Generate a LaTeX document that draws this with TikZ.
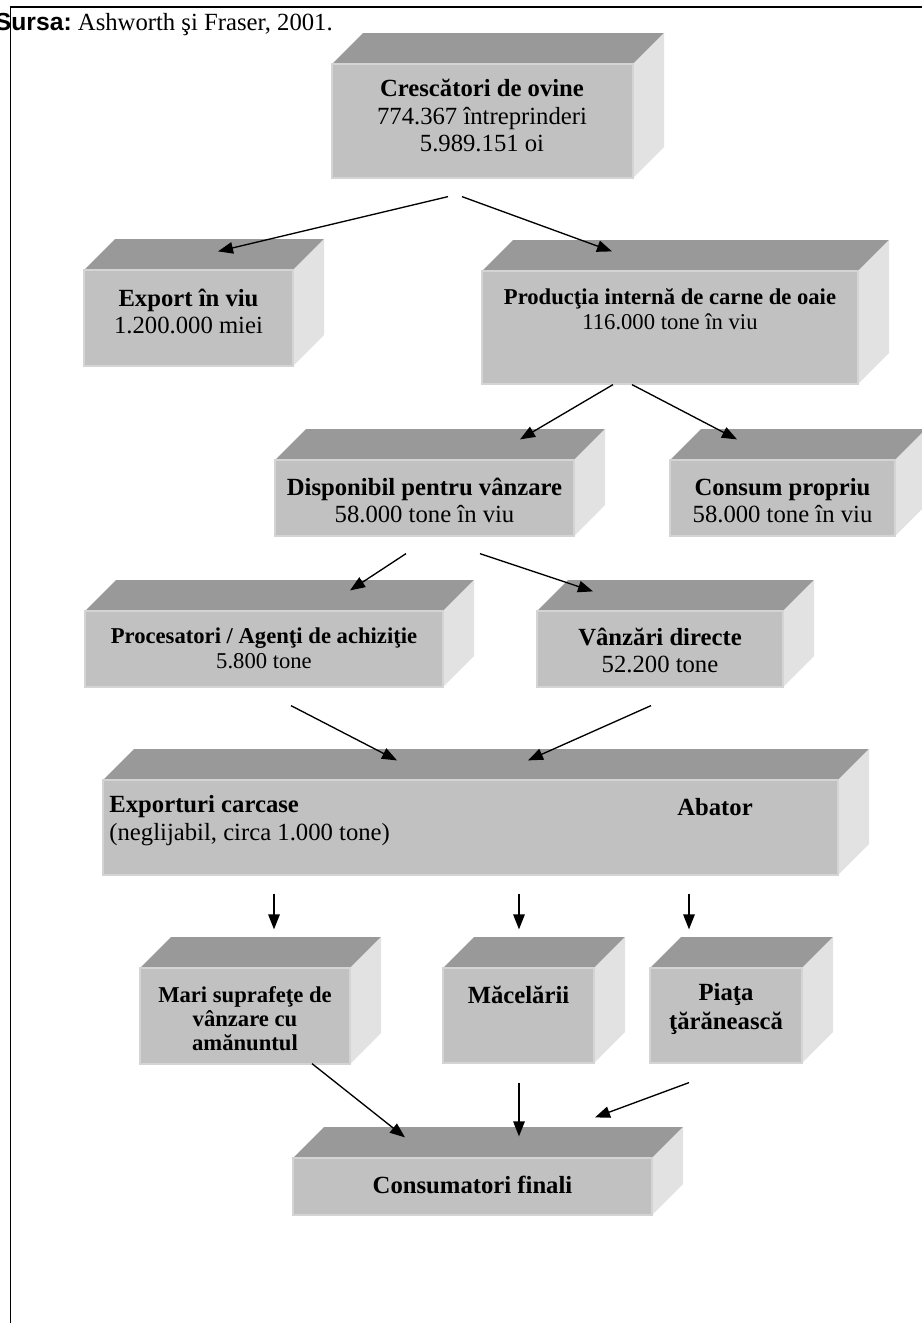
\documentclass[tikz,border=0pt]{standalone}
\usepackage{fontspec}
\setmainfont{Liberation Serif}
\setsansfont{Liberation Sans}
\usetikzlibrary{arrows.meta,calc,fit}

\definecolor{topgray}{RGB}{153,153,153}
\definecolor{frontgray}{RGB}{193,193,193}
\definecolor{sidegray}{RGB}{226,226,226}
\definecolor{edgegray}{RGB}{212,212,212}

% cube: name, x1, y1, x2, y2 (front face)
\newcommand{\cubebox}[5]{%
	\fill[topface] (#2,#3) -- (#2+31,#3-31) -- (#4+31,#3-31) -- (#4,#3) -- cycle;
	\fill[sideface] (#4,#3) -- (#4+31,#3-31) -- (#4+31,#5-31) -- (#4,#5) -- cycle;
	\node[frontface, fit={(#2,#3)(#4,#5)}] (#1) {};
}

\begin{document}
\begin{tikzpicture}[x=0.486pt, y=-0.486pt, font=\fontsize{12}{13.5}\selectfont,
	topface/.style={fill=topgray},
	sideface/.style={fill=sidegray},
	frontface/.style={fill=frontgray, draw=edgegray, line width=0.6pt, inner sep=0pt},
	txt/.style={align=center, inner sep=0pt},
	smalltxt/.style={font=\fontsize{11}{12}\selectfont},
	boldtxt/.style={font=\fontsize{12}{13.8}\selectfont\bfseries},
	flow/.style={-{Triangle[length=7.3pt,width=5.6pt]}, line width=0.65pt}]
	\useasboundingbox (0,0) rectangle (922,1323);
	
	%frame
	\draw[line width=0.75pt] (10.5,1323) -- (10.5,7) -- (922,7);
	\node[anchor=base west, inner sep=0pt] (sursa) at (-5.5,30)
	{\sffamily\bfseries Sursa:\normalfont\ Ashworth şi Fraser, 2001.};
	
	%boxes
	\cubebox{cresc}{332}{64}{633}{178}
	\cubebox{export}{84}{270}{293}{366}
	\cubebox{prod}{482}{271}{858}{384}
	\cubebox{disp}{275}{460}{574}{536}
	\cubebox{consum}{670}{460}{895}{536}
	\cubebox{proc}{85}{611}{443}{687}
	\cubebox{vanz}{537}{611}{783}{687}
	\cubebox{abator}{103}{780}{838}{875}
	\cubebox{mari}{140}{968}{350}{1064}
	\cubebox{macel}{443}{968}{594}{1063}
	\cubebox{piata}{650}{968}{802}{1063}
	\cubebox{cons}{293}{1158}{652}{1215}
	
	%labels
	\node[txt] (t-cresc) at (482,115.5)
	{\textbf{Crescători de ovine}\\774.367 întreprinderi\\5.989.151 oi};
	\node[txt] (t-export) at (188.5,311.5)
	{\textbf{Export în viu}\\1.200.000 miei};
	\node[txt, smalltxt] (t-prod) at (670,309.5)
	{\textbf{Producţia internă de carne de oaie}\\116.000 tone în viu};
	\node[txt] (t-disp) at (424.5,500.5)
	{\textbf{Disponibil pentru vânzare}\\58.000 tone în viu};
	\node[txt] (t-consum) at (782.5,500.5)
	{\textbf{Consum propriu}\\58.000 tone în viu};
	\node[txt, smalltxt] (t-proc) at (264,648.5)
	{\textbf{Procesatori / Agenţi de achiziţie}\\5.800 tone};
	\node[txt] (t-vanz) at (660,650.5)
	{\textbf{Vânzări directe}\\52.200 tone};
	\node[txt, anchor=west, align=left] (t-carcase) at (109,820.5)
	{\textbf{Exporturi carcase}\\(neglijabil, circa 1.000 tone)};
	\node[txt] (t-abator) at (715,807) {\textbf{Abator}};
	\node[txt, font=\fontsize{11}{11.7}\selectfont\bfseries] (t-mari) at (245,1019)
	{Mari suprafeţe de\\vânzare cu\\amănuntul};
	\node[txt, boldtxt] (t-macel) at (518.5,995) {Măcelării};
	\node[txt, boldtxt] (t-piata) at (726,1009) {Piaţa\\ţărănească};
	\node[txt, boldtxt] (t-cons) at (472.5,1185) {Consumatori finali};
	
	%arrows
	\draw[flow] ($(cresc.south)+(-34.5,18)$) -- ($(export.north)+(29.5,-18)$);
	\draw[flow] ($(cresc.south)+(-20.5,18)$) -- ($(prod.north)+(-58,-19)$);
	\draw[flow] ($(prod.south)+(-57,0)$) -- ($(disp.north)+(95.5,-20)$);
	\draw[flow] ($(prod.south)+(-38,0)$) -- ($(consum.north)+(-45.5,-20)$);
	\draw[flow] ($(disp.south)+(-18.5,17)$) -- ($(proc.north)+(86,-20)$);
	\draw[flow] ($(disp.south)+(55.5,17)$) -- ($(vanz.north)+(-67,-19)$);
	\draw[flow] ($(proc.south)+(27,18)$) -- ($(abator.north)+(-73.5,-19)$);
	\draw[flow] ($(vanz.south)+(-9,18)$) -- ($(abator.north)+(57.5,-19)$);
	\draw[flow] ($(abator.south)+(-196.5,18)$) -- ($(mari.north)+(29,-38)$);
	\draw[flow] ($(abator.south)+(48.5,18)$) -- ($(macel.north)+(0.5,-38)$);
	\draw[flow] ($(abator.south)+(218.5,18)$) -- ($(piata.north)+(-37,-38)$);
	\draw[flow] ($(mari.south)+(67,-1)$) -- ($(cons.north)+(-67.5,-20)$);
	\draw[flow] ($(macel.south)+(0.5,19)$) -- ($(cons.north)+(46.5,-21)$);
	\draw[flow] ($(piata.south)+(-37,19)$) -- ($(cons.north)+(122.5,-40)$);
	
\end{tikzpicture}
\end{document}
